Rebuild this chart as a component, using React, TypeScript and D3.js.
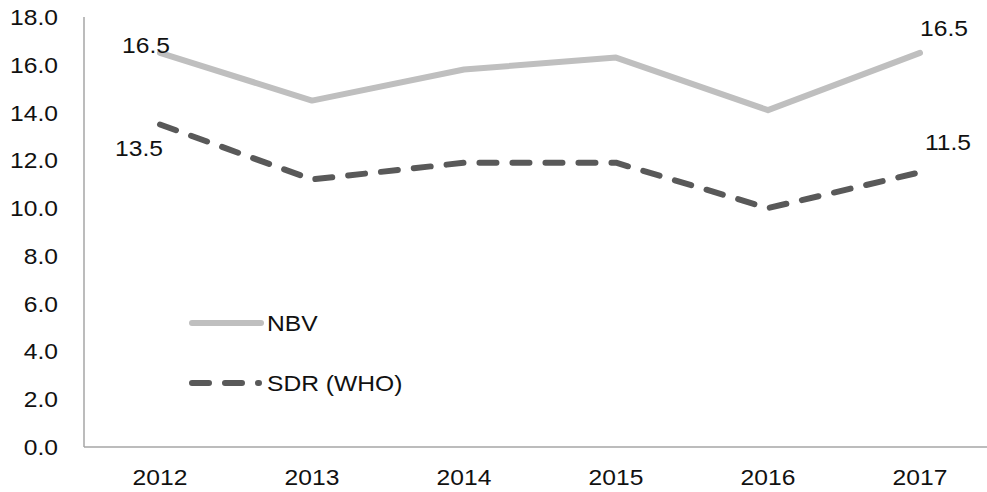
import React from 'react';
import * as d3 from 'd3';

const years = ['2012', '2013', '2014', '2015', '2016', '2017'];
const nbv = [16.5, 14.5, 15.8, 16.3, 14.1, 16.5];
const sdr = [13.5, 11.2, 11.9, 11.9, 10.0, 11.5];
const yTicks = [0, 2, 4, 6, 8, 10, 12, 14, 16, 18];

const W = 987;
const H = 492;
const left = 84;
const top = 17;
const bottom = 447;
const font = 'Arial, "Liberation Sans", sans-serif';

// text is a bit wider than it is tall in the reference
function Label(props: { x: number; y: number; anchor: string; children: React.ReactNode }) {
  return (
    <text
      transform={`translate(${props.x},${props.y}) scale(1.12,1)`}
      textAnchor={props.anchor}
      fontFamily={font}
      fontSize={22}
      fill="#111"
    >
      {props.children}
    </text>
  );
}

export default function App() {
  const x = d3.scaleBand().domain(years).range([left, left + 152 * 6]);
  const y = d3.scaleLinear().domain([0, 18]).range([bottom, top]);
  const cx = (d: string) => (x(d) as number) + x.bandwidth() / 2;

  const line = d3.line<number>()
    .x((_, i) => cx(years[i]))
    .y(d => y(d));

  return (
    <svg width={W} height={H} style={{ position: 'absolute', left: 0, top: 0 }}>
      <rect width={W} height={H} fill="#fff" />
      {/* axes */}
      <line x1={left} x2={left} y1={top} y2={bottom} stroke="#a6a6a6" strokeWidth={1.5} />
      <line x1={left} x2={W} y1={bottom} y2={bottom} stroke="#a6a6a6" strokeWidth={1.5} />
      {yTicks.map(t => (
        <Label key={t} x={58} y={y(t) + 8} anchor="end">{t.toFixed(1)}</Label>
      ))}
      {years.map(yr => (
        <Label key={yr} x={cx(yr)} y={485} anchor="middle">{yr}</Label>
      ))}

      {/* series */}
      <path d={line(nbv) as string} fill="none" stroke="#bfbfbf" strokeWidth={6} strokeLinecap="round" strokeLinejoin="round" />
      <path d={line(sdr) as string} fill="none" stroke="#595959" strokeWidth={6} strokeLinecap="round" strokeLinejoin="round" strokeDasharray="17,16" />

      {/* data labels at the ends */}
      <Label x={cx('2012') - 14} y={y(nbv[0])} anchor="middle">{nbv[0].toFixed(1)}</Label>
      <Label x={cx('2012') - 21} y={y(sdr[0]) + 31} anchor="middle">{sdr[0].toFixed(1)}</Label>
      <Label x={cx('2017') + 24} y={y(nbv[5]) - 17} anchor="middle">{nbv[5].toFixed(1)}</Label>
      <Label x={cx('2017') + 28} y={y(sdr[5]) - 22} anchor="middle">{sdr[5].toFixed(1)}</Label>

      {/* legend */}
      <line x1={192} x2={261} y1={323} y2={323} stroke="#bfbfbf" strokeWidth={6} strokeLinecap="round" />
      <Label x={267} y={331} anchor="start">NBV</Label>
      <line x1={192} x2={259} y1={383} y2={383} stroke="#595959" strokeWidth={6} strokeLinecap="round" strokeDasharray="17,16" />
      <Label x={267} y={391} anchor="start">SDR (WHO)</Label>
    </svg>
  );
}
